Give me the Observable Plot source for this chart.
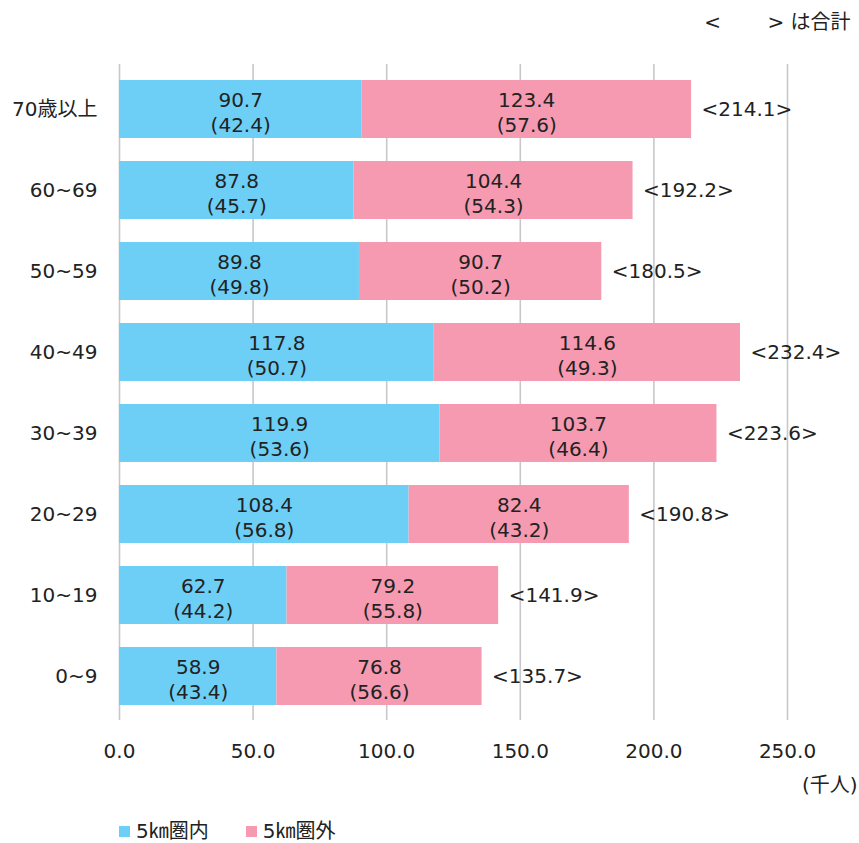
<!DOCTYPE html>
<html lang="ja">
<head>
<meta charset="utf-8">
<script src="https://cdn.jsdelivr.net/npm/d3@7"></script>
<script src="https://cdn.jsdelivr.net/npm/@observablehq/plot@0.6"></script>
<style>
  html, body { margin: 0; padding: 0; background: #fff; }
  body { width: 859px; font-family: "DejaVu Sans", "Noto Sans CJK JP", sans-serif; color: #222; }
  #chart svg { display: block; overflow: visible; }
  .legend { display: flex; align-items: center; height: 20px; line-height: 20px; margin: 21px 0 0 119px; font-size: 20px; font-family: "DejaVu Sans", "Noto Sans CJK JP", sans-serif; color: #222; }
  .legend .item { display: flex; align-items: center; margin-right: 37px; }
  .legend .sw { width: 11px; height: 11px; margin-right: 6px; }
</style>
</head>
<body>
<div id="chart"></div>
<div class="legend" id="legend"></div>
<script>
// Age groups, top to bottom
const ages = ["70歳以上", "60~69", "50~59", "40~49", "30~39", "20~29", "10~19", "0~9"];
// Residents within 5 km (thousand people) and share (%)
const inside = [90.7, 87.8, 89.8, 117.8, 119.9, 108.4, 62.7, 58.9];
const insidePct = [42.4, 45.7, 49.8, 50.7, 53.6, 56.8, 44.2, 43.4];
// Residents beyond 5 km (thousand people) and share (%)
const outside = [123.4, 104.4, 90.7, 114.6, 103.7, 82.4, 79.2, 76.8];
const outsidePct = [57.6, 54.3, 50.2, 49.3, 46.4, 43.2, 55.8, 56.6];
// Totals
const totals = [214.1, 192.2, 180.5, 232.4, 223.6, 190.8, 141.9, 135.7];
const xTicks = [0, 50, 100, 150, 200, 250];
const seriesNames = ["5㎞圏内", "5㎞圏外"];
const seriesColors = ["#6dcff6", "#f59ab0"];

const rows = [];
ages.forEach((a, i) => {
  rows.push({age: a, series: seriesNames[0], x1: 0, x2: inside[i], v: inside[i], p: insidePct[i]});
  rows.push({age: a, series: seriesNames[1], x1: inside[i], x2: inside[i] + outside[i], v: outside[i], p: outsidePct[i]});
});
const totalRows = ages.map((a, i) => ({age: a, total: totals[i]}));

const fmt = d3.format(".1f");
const ink = "#222";

const chart = Plot.plot({
  width: 859,
  height: 800,
  marginTop: 64,
  marginBottom: 80,
  marginLeft: 119,
  marginRight: 72,
  style: {fontFamily: "'DejaVu Sans', 'Noto Sans CJK JP', sans-serif", fontSize: "20px", color: ink, background: "#fff"},
  x: {domain: [0, 250], ticks: xTicks, label: null},
  y: {domain: ages, paddingInner: 0.29, paddingOuter: 0.15, label: null},
  color: {domain: seriesNames, range: seriesColors},
  marks: [
    Plot.ruleX(xTicks, {stroke: "#c8c8cc", strokeWidth: 1.6}),
    Plot.barX(rows, {x1: "x1", x2: "x2", y: "age", fill: "series"}),
    Plot.text(rows, {
      x: d => (d.x1 + d.x2) / 2, y: "age",
      text: d => `${fmt(d.v)}\n(${fmt(d.p)})`,
      lineHeight: 1.25, dy: 2, fontSize: 20, fill: ink
    }),
    Plot.text(totalRows, {
      x: "total", y: "age", text: d => `<${fmt(d.total)}>`,
      textAnchor: "start", dx: 10, fontSize: 20, fill: ink
    }),
    Plot.axisX({ticks: xTicks, tickFormat: fmt, tickSize: 0, tickPadding: 23, fontSize: 20, fill: ink, label: null}),
    Plot.axisY({tickSize: 0, tickPadding: 22, fontSize: 20, fill: ink, label: null}),
    Plot.text(["(千人)"], {frameAnchor: "bottom-right", lineAnchor: "middle", textAnchor: "end", dx: 70, dy: 65, fontSize: 20, fill: ink}),
    Plot.text(["<　　 > は合計"], {frameAnchor: "top-right", lineAnchor: "middle", textAnchor: "end", dx: 63, dy: -42, fontSize: 20, fill: ink})
  ]
});
document.getElementById("chart").append(chart);

const legend = document.getElementById("legend");
seriesNames.forEach((name, i) => {
  const item = document.createElement("div");
  item.className = "item";
  const sw = document.createElement("div");
  sw.className = "sw";
  sw.style.background = seriesColors[i];
  const label = document.createElement("span");
  label.textContent = name;
  item.append(sw, label);
  legend.append(item);
});
</script>
</body>
</html>
